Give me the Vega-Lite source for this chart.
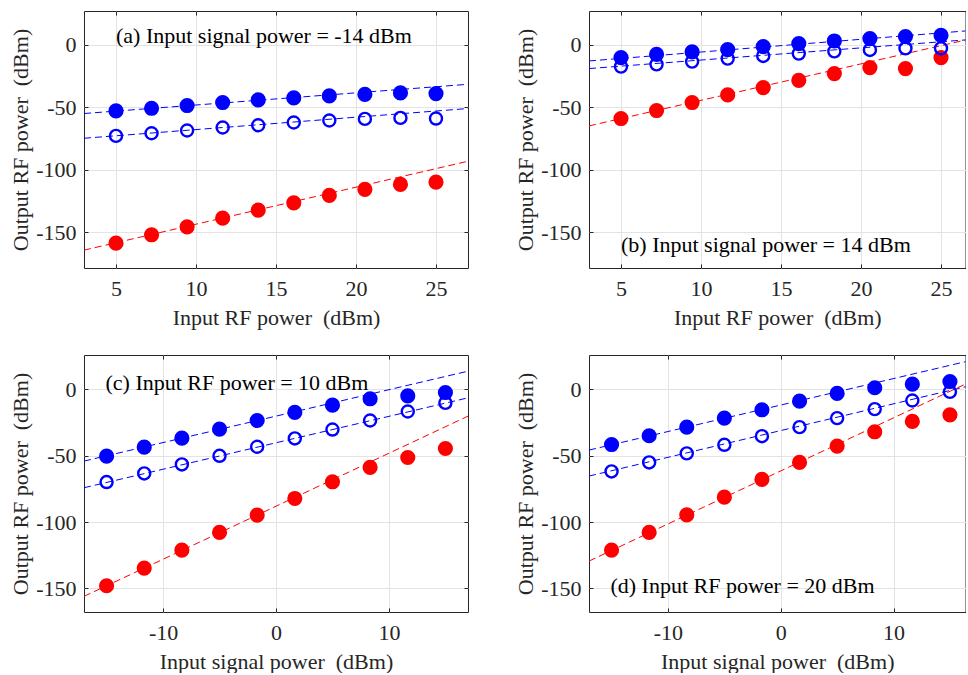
{
  "$schema": "https://vega.github.io/schema/vega-lite/v6.json",
  "background": "white",
  "padding": {"left": 9, "top": 10, "right": 0, "bottom": 0},
  "spacing": 25,
  "datasets": {
    "pts": [
      {"panel": "a", "series": "S1", "x": 5, "y": -52.8},
      {"panel": "a", "series": "S1", "x": 7.222, "y": -50.7},
      {"panel": "a", "series": "S1", "x": 9.444, "y": -48.5},
      {"panel": "a", "series": "S1", "x": 11.667, "y": -46.1},
      {"panel": "a", "series": "S1", "x": 13.889, "y": -44.0},
      {"panel": "a", "series": "S1", "x": 16.111, "y": -42.4},
      {"panel": "a", "series": "S1", "x": 18.333, "y": -40.8},
      {"panel": "a", "series": "S1", "x": 20.556, "y": -39.5},
      {"panel": "a", "series": "S1", "x": 22.778, "y": -38.4},
      {"panel": "a", "series": "S1", "x": 25, "y": -38.9},
      {"panel": "a", "series": "S2", "x": 5, "y": -72.8},
      {"panel": "a", "series": "S2", "x": 7.222, "y": -70.7},
      {"panel": "a", "series": "S2", "x": 9.444, "y": -68.5},
      {"panel": "a", "series": "S2", "x": 11.667, "y": -66.1},
      {"panel": "a", "series": "S2", "x": 13.889, "y": -64.3},
      {"panel": "a", "series": "S2", "x": 16.111, "y": -62.1},
      {"panel": "a", "series": "S2", "x": 18.333, "y": -60.5},
      {"panel": "a", "series": "S2", "x": 20.556, "y": -59.2},
      {"panel": "a", "series": "S2", "x": 22.778, "y": -58.4},
      {"panel": "a", "series": "S2", "x": 25, "y": -58.9},
      {"panel": "a", "series": "S3", "x": 5, "y": -158.7},
      {"panel": "a", "series": "S3", "x": 7.222, "y": -152.0},
      {"panel": "a", "series": "S3", "x": 9.444, "y": -145.6},
      {"panel": "a", "series": "S3", "x": 11.667, "y": -138.7},
      {"panel": "a", "series": "S3", "x": 13.889, "y": -132.3},
      {"panel": "a", "series": "S3", "x": 16.111, "y": -126.4},
      {"panel": "a", "series": "S3", "x": 18.333, "y": -120.5},
      {"panel": "a", "series": "S3", "x": 20.556, "y": -115.7},
      {"panel": "a", "series": "S3", "x": 22.778, "y": -111.7},
      {"panel": "a", "series": "S3", "x": 25, "y": -109.9},

      {"panel": "b", "series": "S1", "x": 5, "y": -10.1},
      {"panel": "b", "series": "S1", "x": 7.222, "y": -7.5},
      {"panel": "b", "series": "S1", "x": 9.444, "y": -5.6},
      {"panel": "b", "series": "S1", "x": 11.667, "y": -3.7},
      {"panel": "b", "series": "S1", "x": 13.889, "y": -1.3},
      {"panel": "b", "series": "S1", "x": 16.111, "y": 1.1},
      {"panel": "b", "series": "S1", "x": 18.333, "y": 3.2},
      {"panel": "b", "series": "S1", "x": 20.556, "y": 5.1},
      {"panel": "b", "series": "S1", "x": 22.778, "y": 6.7},
      {"panel": "b", "series": "S1", "x": 25, "y": 7.7},
      {"panel": "b", "series": "S2", "x": 5, "y": -17.3},
      {"panel": "b", "series": "S2", "x": 7.222, "y": -15.5},
      {"panel": "b", "series": "S2", "x": 9.444, "y": -13.3},
      {"panel": "b", "series": "S2", "x": 11.667, "y": -10.9},
      {"panel": "b", "series": "S2", "x": 13.889, "y": -8.8},
      {"panel": "b", "series": "S2", "x": 16.111, "y": -6.9},
      {"panel": "b", "series": "S2", "x": 18.333, "y": -5.1},
      {"panel": "b", "series": "S2", "x": 20.556, "y": -4.0},
      {"panel": "b", "series": "S2", "x": 22.778, "y": -2.7},
      {"panel": "b", "series": "S2", "x": 25, "y": -2.7},
      {"panel": "b", "series": "S3", "x": 5, "y": -58.9},
      {"panel": "b", "series": "S3", "x": 7.222, "y": -52.5},
      {"panel": "b", "series": "S3", "x": 9.444, "y": -46.1},
      {"panel": "b", "series": "S3", "x": 11.667, "y": -40.0},
      {"panel": "b", "series": "S3", "x": 13.889, "y": -34.1},
      {"panel": "b", "series": "S3", "x": 16.111, "y": -28.3},
      {"panel": "b", "series": "S3", "x": 18.333, "y": -22.9},
      {"panel": "b", "series": "S3", "x": 20.556, "y": -18.1},
      {"panel": "b", "series": "S3", "x": 22.778, "y": -18.9},
      {"panel": "b", "series": "S3", "x": 25, "y": -10.1},

      {"panel": "c", "series": "S1", "x": -15, "y": -50.3},
      {"panel": "c", "series": "S1", "x": -11.667, "y": -43.5},
      {"panel": "c", "series": "S1", "x": -8.333, "y": -36.7},
      {"panel": "c", "series": "S1", "x": -5, "y": -29.9},
      {"panel": "c", "series": "S1", "x": -1.667, "y": -23.4},
      {"panel": "c", "series": "S1", "x": 1.667, "y": -17.3},
      {"panel": "c", "series": "S1", "x": 5, "y": -11.8},
      {"panel": "c", "series": "S1", "x": 8.333, "y": -7.0},
      {"panel": "c", "series": "S1", "x": 11.667, "y": -4.8},
      {"panel": "c", "series": "S1", "x": 15, "y": -2.3},
      {"panel": "c", "series": "S2", "x": -15, "y": -69.8},
      {"panel": "c", "series": "S2", "x": -11.667, "y": -63.3},
      {"panel": "c", "series": "S2", "x": -8.333, "y": -56.5},
      {"panel": "c", "series": "S2", "x": -5, "y": -50.0},
      {"panel": "c", "series": "S2", "x": -1.667, "y": -43.2},
      {"panel": "c", "series": "S2", "x": 1.667, "y": -36.9},
      {"panel": "c", "series": "S2", "x": 5, "y": -30.2},
      {"panel": "c", "series": "S2", "x": 8.333, "y": -23.4},
      {"panel": "c", "series": "S2", "x": 11.667, "y": -16.6},
      {"panel": "c", "series": "S2", "x": 15, "y": -10.1},
      {"panel": "c", "series": "S3", "x": -15, "y": -148.0},
      {"panel": "c", "series": "S3", "x": -11.667, "y": -134.7},
      {"panel": "c", "series": "S3", "x": -8.333, "y": -121.1},
      {"panel": "c", "series": "S3", "x": -5, "y": -107.8},
      {"panel": "c", "series": "S3", "x": -1.667, "y": -94.7},
      {"panel": "c", "series": "S3", "x": 1.667, "y": -82.2},
      {"panel": "c", "series": "S3", "x": 5, "y": -69.6},
      {"panel": "c", "series": "S3", "x": 8.333, "y": -58.8},
      {"panel": "c", "series": "S3", "x": 11.667, "y": -51.3},
      {"panel": "c", "series": "S3", "x": 15, "y": -44.5},

      {"panel": "d", "series": "S1", "x": -15, "y": -41.5},
      {"panel": "d", "series": "S1", "x": -11.667, "y": -34.9},
      {"panel": "d", "series": "S1", "x": -8.333, "y": -28.4},
      {"panel": "d", "series": "S1", "x": -5, "y": -21.6},
      {"panel": "d", "series": "S1", "x": -1.667, "y": -15.3},
      {"panel": "d", "series": "S1", "x": 1.667, "y": -8.8},
      {"panel": "d", "series": "S1", "x": 5, "y": -3.0},
      {"panel": "d", "series": "S1", "x": 8.333, "y": 1.3},
      {"panel": "d", "series": "S1", "x": 11.667, "y": 4.0},
      {"panel": "d", "series": "S1", "x": 15, "y": 6.0},
      {"panel": "d", "series": "S2", "x": -15, "y": -61.8},
      {"panel": "d", "series": "S2", "x": -11.667, "y": -55.0},
      {"panel": "d", "series": "S2", "x": -8.333, "y": -48.2},
      {"panel": "d", "series": "S2", "x": -5, "y": -41.7},
      {"panel": "d", "series": "S2", "x": -1.667, "y": -35.2},
      {"panel": "d", "series": "S2", "x": 1.667, "y": -28.4},
      {"panel": "d", "series": "S2", "x": 5, "y": -21.6},
      {"panel": "d", "series": "S2", "x": 8.333, "y": -14.8},
      {"panel": "d", "series": "S2", "x": 11.667, "y": -8.3},
      {"panel": "d", "series": "S2", "x": 15, "y": -1.8},
      {"panel": "d", "series": "S3", "x": -15, "y": -121.1},
      {"panel": "d", "series": "S3", "x": -11.667, "y": -107.8},
      {"panel": "d", "series": "S3", "x": -8.333, "y": -94.5},
      {"panel": "d", "series": "S3", "x": -5, "y": -81.2},
      {"panel": "d", "series": "S3", "x": -1.667, "y": -67.8},
      {"panel": "d", "series": "S3", "x": 1.667, "y": -55.0},
      {"panel": "d", "series": "S3", "x": 5, "y": -42.7},
      {"panel": "d", "series": "S3", "x": 8.333, "y": -31.9},
      {"panel": "d", "series": "S3", "x": 11.667, "y": -24.1},
      {"panel": "d", "series": "S3", "x": 15, "y": -19.1}
    ],
    "fits": [
      {"panel": "a", "series": "S1", "x": 3, "y": -54.9},
      {"panel": "a", "series": "S1", "x": 27, "y": -31.5},
      {"panel": "a", "series": "S2", "x": 3, "y": -74.7},
      {"panel": "a", "series": "S2", "x": 27, "y": -50.9},
      {"panel": "a", "series": "S3", "x": 3, "y": -164.3},
      {"panel": "a", "series": "S3", "x": 27, "y": -93.1},
      {"panel": "b", "series": "S1", "x": 3, "y": -12.8},
      {"panel": "b", "series": "S1", "x": 27, "y": 11.7},
      {"panel": "b", "series": "S2", "x": 3, "y": -18.9},
      {"panel": "b", "series": "S2", "x": 27, "y": 4.5},
      {"panel": "b", "series": "S3", "x": 3, "y": -64.8},
      {"panel": "b", "series": "S3", "x": 27, "y": 5.3},
      {"panel": "c", "series": "S1", "x": -17, "y": -54.0},
      {"panel": "c", "series": "S1", "x": 17, "y": 13.8},
      {"panel": "c", "series": "S2", "x": -17, "y": -74.1},
      {"panel": "c", "series": "S2", "x": 17, "y": -6.3},
      {"panel": "c", "series": "S3", "x": -17, "y": -156.0},
      {"panel": "c", "series": "S3", "x": 17, "y": -20.1},
      {"panel": "d", "series": "S1", "x": -17, "y": -45.7},
      {"panel": "d", "series": "S1", "x": 17, "y": 22.2},
      {"panel": "d", "series": "S2", "x": -17, "y": -65.3},
      {"panel": "d", "series": "S2", "x": 17, "y": 3.3},
      {"panel": "d", "series": "S3", "x": -17, "y": -129.4},
      {"panel": "d", "series": "S3", "x": 17, "y": 6.6}
    ],
    "notes": [
      {"panel": "a", "x": 5, "y": 7.4, "text": "(a) Input signal power = -14 dBm"},
      {"panel": "b", "x": 5, "y": -160.5, "text": "(b) Input signal power = 14 dBm"},
      {"panel": "c", "x": -15.1, "y": 4.8, "text": "(c) Input RF power = 10 dBm"},
      {"panel": "d", "x": -15.1, "y": -148.5, "text": "(d) Input RF power = 20 dBm"}
    ]
  },
  "vconcat": [
    {
      "hconcat": [
        {
          "width": 384, "height": 257,
          "layer": [
            {"data": {"name": "fits"}, "transform": [{"filter": "datum.panel === 'a'"}],
             "mark": {"type": "line", "strokeDash": [7, 4], "strokeWidth": 1, "clip": true},
             "encoding": {
               "x": {"field": "x", "type": "quantitative", "scale": {"domain": [3, 27], "nice": false, "zero": false},
                     "axis": {"values": [5, 10, 15, 20, 25], "title": "Input RF power\u00a0 (dBm)"}},
               "y": {"field": "y", "type": "quantitative", "scale": {"domain": [-178.6, 27.2], "nice": false, "zero": false},
                     "axis": {"values": [-150, -100, -50, 0], "title": "Output RF power\u00a0 (dBm)"}},
               "color": {"field": "series", "type": "nominal", "scale": {"domain": ["S1", "S2", "S3"], "range": ["#0000ff", "#0000ff", "#ff0000"]}, "legend": null}}},
            {"data": {"name": "pts"}, "transform": [{"filter": "datum.panel === 'a' && datum.series !== 'S2'"}],
             "mark": {"type": "point", "shape": "circle", "filled": true, "size": 230, "opacity": 1},
             "encoding": {
               "x": {"field": "x", "type": "quantitative", "axis": {"orient": "top", "values": [5, 10, 15, 20, 25], "labels": false, "title": "", "grid": false}},
               "y": {"field": "y", "type": "quantitative", "axis": {"orient": "right", "values": [-150, -100, -50, 0], "labels": false, "title": "", "grid": false}},
               "color": {"field": "series", "type": "nominal", "legend": null}}},
            {"data": {"name": "pts"}, "transform": [{"filter": "datum.panel === 'a' && datum.series === 'S2'"}],
             "mark": {"type": "point", "shape": "circle", "filled": false, "size": 145, "strokeWidth": 2.4, "opacity": 1},
             "encoding": {
               "x": {"field": "x", "type": "quantitative", "axis": null},
               "y": {"field": "y", "type": "quantitative", "axis": null},
               "color": {"field": "series", "type": "nominal", "legend": null}}},
            {"data": {"name": "notes"}, "transform": [{"filter": "datum.panel === 'a'"}],
             "mark": {"type": "text", "align": "left", "baseline": "middle", "font": "Liberation Serif", "fontSize": 22, "color": "#000000"},
             "encoding": {
               "x": {"field": "x", "type": "quantitative", "axis": null},
               "y": {"field": "y", "type": "quantitative", "axis": null},
               "text": {"field": "text"}}}
          ],
          "resolve": {"axis": {"x": "independent", "y": "independent"}}
        },
        {
          "width": 376.5, "height": 257,
          "layer": [
            {"data": {"name": "fits"}, "transform": [{"filter": "datum.panel === 'b'"}],
             "mark": {"type": "line", "strokeDash": [7, 4], "strokeWidth": 1, "clip": true},
             "encoding": {
               "x": {"field": "x", "type": "quantitative", "scale": {"domain": [3, 26.53], "nice": false, "zero": false},
                     "axis": {"values": [5, 10, 15, 20, 25], "title": "Input RF power\u00a0 (dBm)"}},
               "y": {"field": "y", "type": "quantitative", "scale": {"domain": [-178.6, 27.2], "nice": false, "zero": false},
                     "axis": {"values": [-150, -100, -50, 0], "title": "Output RF power\u00a0 (dBm)"}},
               "color": {"field": "series", "type": "nominal", "scale": {"domain": ["S1", "S2", "S3"], "range": ["#0000ff", "#0000ff", "#ff0000"]}, "legend": null}}},
            {"data": {"name": "pts"}, "transform": [{"filter": "datum.panel === 'b' && datum.series !== 'S2'"}],
             "mark": {"type": "point", "shape": "circle", "filled": true, "size": 230, "opacity": 1},
             "encoding": {
               "x": {"field": "x", "type": "quantitative", "axis": {"orient": "top", "values": [5, 10, 15, 20, 25], "labels": false, "title": "", "grid": false}},
               "y": {"field": "y", "type": "quantitative", "axis": null},
               "color": {"field": "series", "type": "nominal", "legend": null}}},
            {"data": {"name": "pts"}, "transform": [{"filter": "datum.panel === 'b' && datum.series === 'S2'"}],
             "mark": {"type": "point", "shape": "circle", "filled": false, "size": 145, "strokeWidth": 2.4, "opacity": 1},
             "encoding": {
               "x": {"field": "x", "type": "quantitative", "axis": null},
               "y": {"field": "y", "type": "quantitative", "axis": null},
               "color": {"field": "series", "type": "nominal", "legend": null}}},
            {"data": {"name": "notes"}, "transform": [{"filter": "datum.panel === 'b'"}],
             "mark": {"type": "text", "align": "left", "baseline": "middle", "font": "Liberation Serif", "fontSize": 22, "color": "#000000"},
             "encoding": {
               "x": {"field": "x", "type": "quantitative", "axis": null},
               "y": {"field": "y", "type": "quantitative", "axis": null},
               "text": {"field": "text"}}}
          ],
          "resolve": {"axis": {"x": "independent", "y": "independent"}}
        }
      ],
      "spacing": 45
    },
    {
      "hconcat": [
        {
          "width": 384, "height": 257,
          "layer": [
            {"data": {"name": "fits"}, "transform": [{"filter": "datum.panel === 'c'"}],
             "mark": {"type": "line", "strokeDash": [7, 4], "strokeWidth": 1, "clip": true},
             "encoding": {
               "x": {"field": "x", "type": "quantitative", "scale": {"domain": [-17, 17], "nice": false, "zero": false},
                     "axis": {"values": [-10, 0, 10], "title": "Input signal power\u00a0 (dBm)"}},
               "y": {"field": "y", "type": "quantitative", "scale": {"domain": [-167.8, 26], "nice": false, "zero": false},
                     "axis": {"values": [-150, -100, -50, 0], "title": "Output RF power\u00a0 (dBm)"}},
               "color": {"field": "series", "type": "nominal", "scale": {"domain": ["S1", "S2", "S3"], "range": ["#0000ff", "#0000ff", "#ff0000"]}, "legend": null}}},
            {"data": {"name": "pts"}, "transform": [{"filter": "datum.panel === 'c' && datum.series !== 'S2'"}],
             "mark": {"type": "point", "shape": "circle", "filled": true, "size": 230, "opacity": 1},
             "encoding": {
               "x": {"field": "x", "type": "quantitative", "axis": {"orient": "top", "values": [-10, 0, 10], "labels": false, "title": "", "grid": false}},
               "y": {"field": "y", "type": "quantitative", "axis": {"orient": "right", "values": [-150, -100, -50, 0], "labels": false, "title": "", "grid": false}},
               "color": {"field": "series", "type": "nominal", "legend": null}}},
            {"data": {"name": "pts"}, "transform": [{"filter": "datum.panel === 'c' && datum.series === 'S2'"}],
             "mark": {"type": "point", "shape": "circle", "filled": false, "size": 145, "strokeWidth": 2.4, "opacity": 1},
             "encoding": {
               "x": {"field": "x", "type": "quantitative", "axis": null},
               "y": {"field": "y", "type": "quantitative", "axis": null},
               "color": {"field": "series", "type": "nominal", "legend": null}}},
            {"data": {"name": "notes"}, "transform": [{"filter": "datum.panel === 'c'"}],
             "mark": {"type": "text", "align": "left", "baseline": "middle", "font": "Liberation Serif", "fontSize": 22, "color": "#000000"},
             "encoding": {
               "x": {"field": "x", "type": "quantitative", "axis": null},
               "y": {"field": "y", "type": "quantitative", "axis": null},
               "text": {"field": "text"}}}
          ],
          "resolve": {"axis": {"x": "independent", "y": "independent"}}
        },
        {
          "width": 376.5, "height": 257,
          "layer": [
            {"data": {"name": "fits"}, "transform": [{"filter": "datum.panel === 'd'"}],
             "mark": {"type": "line", "strokeDash": [7, 4], "strokeWidth": 1, "clip": true},
             "encoding": {
               "x": {"field": "x", "type": "quantitative", "scale": {"domain": [-17, 16.38], "nice": false, "zero": false},
                     "axis": {"values": [-10, 0, 10], "title": "Input signal power\u00a0 (dBm)"}},
               "y": {"field": "y", "type": "quantitative", "scale": {"domain": [-167.8, 26], "nice": false, "zero": false},
                     "axis": {"values": [-150, -100, -50, 0], "title": "Output RF power\u00a0 (dBm)"}},
               "color": {"field": "series", "type": "nominal", "scale": {"domain": ["S1", "S2", "S3"], "range": ["#0000ff", "#0000ff", "#ff0000"]}, "legend": null}}},
            {"data": {"name": "pts"}, "transform": [{"filter": "datum.panel === 'd' && datum.series !== 'S2'"}],
             "mark": {"type": "point", "shape": "circle", "filled": true, "size": 230, "opacity": 1},
             "encoding": {
               "x": {"field": "x", "type": "quantitative", "axis": {"orient": "top", "values": [-10, 0, 10], "labels": false, "title": "", "grid": false}},
               "y": {"field": "y", "type": "quantitative", "axis": null},
               "color": {"field": "series", "type": "nominal", "legend": null}}},
            {"data": {"name": "pts"}, "transform": [{"filter": "datum.panel === 'd' && datum.series === 'S2'"}],
             "mark": {"type": "point", "shape": "circle", "filled": false, "size": 145, "strokeWidth": 2.4, "opacity": 1},
             "encoding": {
               "x": {"field": "x", "type": "quantitative", "axis": null},
               "y": {"field": "y", "type": "quantitative", "axis": null},
               "color": {"field": "series", "type": "nominal", "legend": null}}},
            {"data": {"name": "notes"}, "transform": [{"filter": "datum.panel === 'd'"}],
             "mark": {"type": "text", "align": "left", "baseline": "middle", "font": "Liberation Serif", "fontSize": 22, "color": "#000000"},
             "encoding": {
               "x": {"field": "x", "type": "quantitative", "axis": null},
               "y": {"field": "y", "type": "quantitative", "axis": null},
               "text": {"field": "text"}}}
          ],
          "resolve": {"axis": {"x": "independent", "y": "independent"}}
        }
      ],
      "spacing": 45
    }
  ],
  "config": {
    "font": "Liberation Serif",
    "view": {"stroke": "#262626", "strokeWidth": 1},
    "axis": {
      "labelFont": "Liberation Serif",
      "titleFont": "Liberation Serif",
      "labelFontSize": 22,
      "titleFontSize": 22,
      "titleFontWeight": "normal",
      "labelColor": "#262626",
      "titleColor": "#262626",
      "labelExpr": "'' + datum.value",
      "domain": false,
      "grid": true,
      "gridColor": "#e3e3e3",
      "gridWidth": 1,
      "tickColor": "#262626",
      "tickSize": -4,
      "tickWidth": 1,
      "labelPadding": 12,
      "titlePadding": 3,
      "labelFlush": false,
      "labelOverlap": false
    },
    "axisBottom": {"labelPadding": 14, "titlePadding": 8}
  }
}
